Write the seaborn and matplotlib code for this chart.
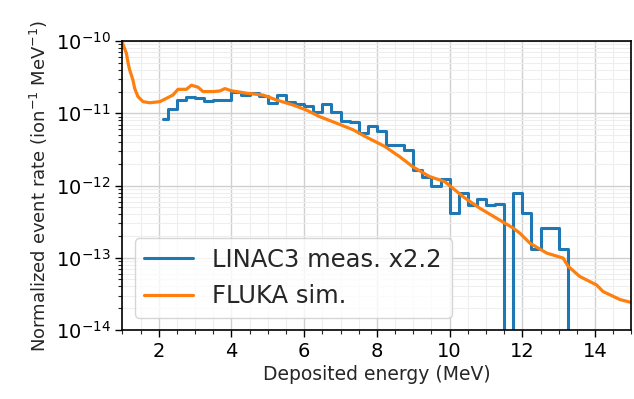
import numpy as np
import pandas as pd
import matplotlib
matplotlib.use("Agg")
import matplotlib.pyplot as plt
import seaborn as sns
from matplotlib.ticker import FixedLocator, NullFormatter

# ---- data ----
meas_energy = [2.125, 2.375, 2.625, 2.875, 3.125, 3.375, 3.625, 3.875,
               4.125, 4.375, 4.625, 4.875, 5.125, 5.375, 5.625, 5.875,
               6.125, 6.375, 6.625, 6.875, 7.125, 7.375, 7.625, 7.875,
               8.125, 8.375, 8.625, 8.875, 9.125, 9.375, 9.625, 9.875,
               10.125, 10.375, 10.625, 10.875, 11.125, 11.375, 11.625, 11.875,
               12.125, 12.375, 12.625, 12.875, 13.125, 13.375, 13.625, 13.875,
               14.125, 14.375, 14.625, 14.875]
meas_rate = [8.4e-12, 1.13e-11, 1.52e-11, 1.70e-11, 1.64e-11, 1.48e-11, 1.52e-11, 1.55e-11,
             1.95e-11, 1.77e-11, 1.94e-11, 1.72e-11, 1.38e-11, 1.77e-11, 1.42e-11, 1.36e-11,
             1.28e-11, 1.05e-11, 1.34e-11, 1.04e-11, 7.9e-12, 7.6e-12, 5.3e-12, 6.6e-12,
             5.7e-12, 3.65e-12, 3.6e-12, 3.1e-12, 1.65e-12, 1.33e-12, 9.8e-13, 1.22e-12,
             4.1e-13, 8.0e-13, 5.3e-13, 6.5e-13, 5.3e-13, 5.5e-13, 0.0, 8.0e-13,
             4.1e-13, 1.32e-13, 2.6e-13, 2.6e-13, 1.34e-13, 0.0, 0.0, 0.0,
             0.0, 0.0, 0.0, 0.0]

sim_energy = [1.00, 1.11, 1.16, 1.20, 1.29, 1.34, 1.43, 1.57, 1.75, 2.03,
              2.21, 2.39, 2.53, 2.76, 2.90, 3.08, 3.22, 3.50, 3.68, 3.82,
              4.00, 4.41, 4.87, 5.24, 5.70, 6.06, 6.43, 6.89, 7.35, 7.67,
              8.22, 8.63, 9.00, 9.45, 9.87, 10.37, 10.83, 11.29, 11.75, 11.93,
              12.21, 12.67, 13.12, 13.26, 13.58, 14.04, 14.22, 14.69, 15.00]
sim_rate = [9.5e-11, 6.8e-11, 4.9e-11, 4.0e-11, 2.9e-11, 2.2e-11, 1.7e-11, 1.45e-11, 1.40e-11, 1.45e-11,
            1.61e-11, 1.79e-11, 2.15e-11, 2.15e-11, 2.45e-11, 2.3e-11, 2.0e-11, 2.0e-11, 2.04e-11, 2.2e-11,
            2.05e-11, 1.9e-11, 1.79e-11, 1.53e-11, 1.30e-11, 1.11e-11, 8.97e-12, 7.3e-12, 5.9e-12, 4.8e-12,
            3.47e-12, 2.5e-12, 1.8e-12, 1.33e-12, 1.13e-12, 7.0e-13, 4.85e-13, 3.53e-13, 2.57e-13, 2.19e-13,
            1.59e-13, 1.16e-13, 9.9e-14, 7.6e-14, 5.5e-14, 4.2e-14, 3.4e-14, 2.63e-14, 2.4e-14]

meas_label = "LINAC3 meas. x2.2"
sim_label = "FLUKA sim."

x_major = [2, 4, 6, 8, 10, 12, 14]
y_major = [1e-14, 1e-13, 1e-12, 1e-11, 1e-10]

meas_df = pd.DataFrame({"E": meas_energy, "rate": meas_rate})
sim_df = pd.DataFrame({"E": sim_energy, "rate": sim_rate})

# ---- style ----
sns.set_theme(style="ticks")
plt.rcParams["font.family"] = ["DejaVu Sans"]

fig, ax = plt.subplots(figsize=(6.34, 3.99), dpi=100)
fig.subplots_adjust(left=0.193, right=0.996, bottom=0.173, top=0.897)

sns.lineplot(data=meas_df, x="E", y="rate", ax=ax, color="#1f77b4", lw=2.2,
             drawstyle="steps-mid", label=meas_label, estimator=None, sort=False)
sns.lineplot(data=sim_df, x="E", y="rate", ax=ax, color="#ff7f0e", lw=2.3,
             label=sim_label, estimator=None, sort=False)

ax.set_yscale("log")
ax.set_xlim(1, 15)
ax.set_ylim(1e-14, 1e-10)

x_minor = [v for v in np.arange(1.0, 15.01, 0.5) if v not in x_major]
y_minor = [m * d for d in y_major[:-1] for m in range(2, 10)]

ax.xaxis.set_major_locator(FixedLocator(x_major))
ax.xaxis.set_minor_locator(FixedLocator(x_minor))
ax.yaxis.set_major_locator(FixedLocator(y_major))
ax.yaxis.set_minor_locator(FixedLocator(y_minor))
ax.yaxis.set_minor_formatter(NullFormatter())
ax.xaxis.set_minor_formatter(NullFormatter())

ax.grid(which="major", color="#d0d0d0", lw=1.0)
ax.grid(which="minor", color="#eeeeee", lw=0.8)
ax.set_axisbelow(True)

for s in ax.spines.values():
    s.set_color("black")
    s.set_linewidth(1.2)

ax.tick_params(which="major", direction="out", length=5, width=1, labelsize=14, colors="black")
ax.tick_params(which="minor", direction="out", length=3, width=0.8)

ax.set_xlabel("Deposited energy (MeV)", fontsize=13.5, labelpad=3)
ax.set_ylabel("Normalized event rate (ion$^{-1}$ MeV$^{-1}$)", fontsize=13.0, labelpad=4)

ax.legend(loc="lower left", fontsize=17.5, frameon=True, framealpha=0.8,
          edgecolor="#cccccc", fancybox=True, borderaxespad=0.5)

fig.savefig("out.png", dpi=100)
